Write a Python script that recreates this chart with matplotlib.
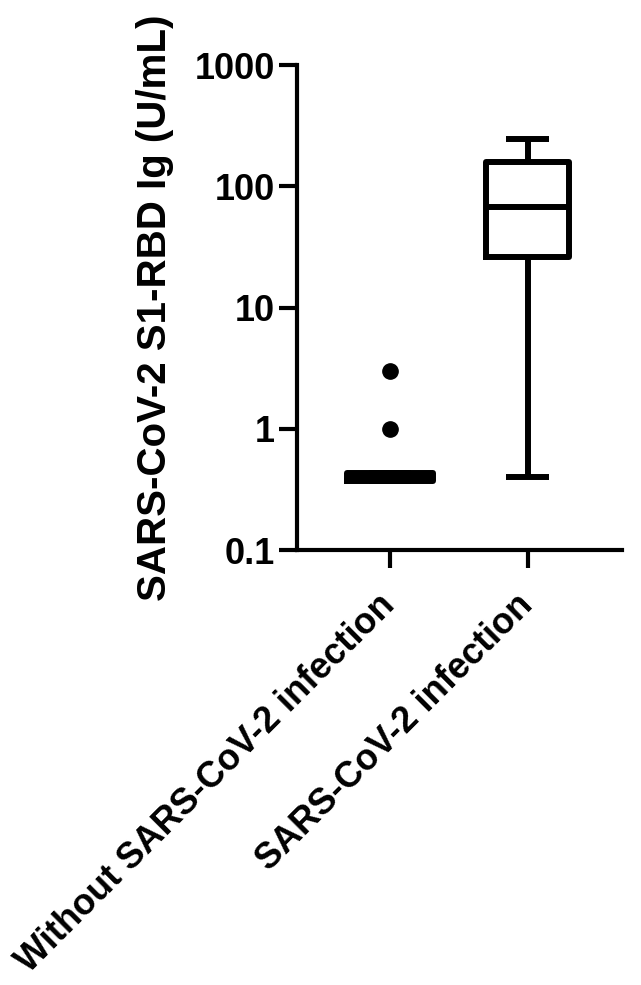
import matplotlib
matplotlib.use('Agg')
import matplotlib.pyplot as plt
import matplotlib.transforms as mtransforms

plt.rcParams['font.family'] = ['Liberation Sans', 'DejaVu Sans']
plt.rcParams['font.weight'] = 'bold'

# Data (U/mL)
groups = ['Without SARS-CoV-2 infection', 'SARS-CoV-2 infection']
q1 = [0.37, 26.0]
med = [0.40, 67.0]
q3 = [0.43, 160.0]
whislo = [0.37, 0.40]
whishi = [0.43, 246.0]
fliers = [[1.0, 3.0], []]
ylabel = 'SARS-CoV-2 S1-RBD Ig (U/mL)'
yticks = [0.1, 1, 10, 100, 1000]
ytick_labels = ['0.1', '1', '10', '100', '1000']


def main():
    fig = plt.figure(figsize=(6.41, 9.85), dpi=100)
    ax = fig.add_axes([0.4633, 0.4416, 0.5071, 0.4924])

    stats = []
    for i, name in enumerate(groups):
        stats.append(dict(label=name, q1=q1[i], med=med[i], q3=q3[i],
                          whislo=whislo[i], whishi=whishi[i], fliers=fliers[i]))

    lw = 4.3
    line = dict(color='black', linewidth=lw, solid_capstyle='butt')
    ax.bxp(stats, positions=[0, 1], widths=[0.62, 0.6], capwidths=[0.31, 0.31],
           boxprops=dict(color='black', linewidth=lw),
           medianprops=line, whiskerprops=line, capprops=line,
           flierprops=dict(marker='o', markerfacecolor='black',
                           markeredgecolor='black', markersize=11))

    ax.set_yscale('log')
    ax.set_ylim(0.1, 1000)
    ax.set_xlim(-0.676, 1.687)
    ax.set_yticks(yticks)
    ax.set_yticklabels(ytick_labels)
    ax.minorticks_off()
    ax.set_xticks([0, 1])
    ax.set_xticklabels(groups, rotation=45, ha='right', va='center',
                       rotation_mode='anchor')

    # nudge the slanted labels a bit right
    shift = mtransforms.ScaledTranslation(7 / 72, 0, fig.dpi_scale_trans)
    for lab in ax.get_xticklabels():
        lab.set_transform(lab.get_transform() + shift)

    for side in ['top', 'right']:
        ax.spines[side].set_visible(False)
    for side in ['left', 'bottom']:
        ax.spines[side].set_linewidth(3)

    ax.tick_params(axis='both', length=13, width=3, labelsize=26)
    ax.tick_params(axis='x', labelsize=26, pad=23)
    ax.tick_params(axis='y', pad=3)
    ax.set_ylabel(ylabel, fontsize=29, fontweight='bold', labelpad=15)

    fig.savefig('out.png', dpi=100)


if __name__ == '__main__':
    main()
